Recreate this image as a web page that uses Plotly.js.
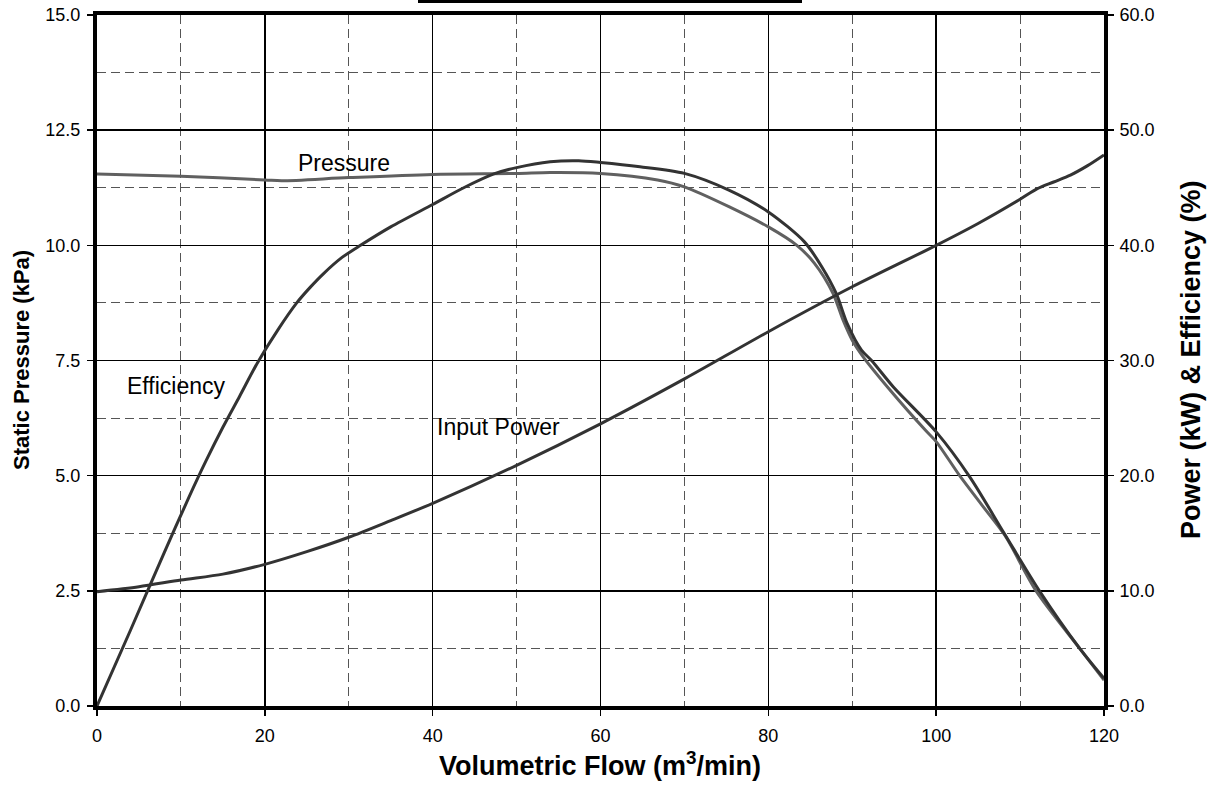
<!DOCTYPE html>
<html>
<head>
<meta charset="utf-8">
<script src="https://cdn.plot.ly/plotly-3.0.1.min.js"></script>
<style>html,body{margin:0;padding:0;background:#fff;}#chart{width:1211px;height:791px;}</style>
</head>
<body>
<div id="chart"></div>
<script>
// Pressure curve (left axis, kPa)
const pressureFlow = [0, 10, 20, 22, 30, 40, 50, 54, 60, 66.8, 70, 75.3, 80, 83.4, 85.5, 87.7, 88.9, 90, 91.3, 94.5, 98.7, 100, 102.8, 105.5, 108.2, 111.9, 117.1, 120];
const pressureVals = [11.55, 11.5, 11.42, 11.40, 11.47, 11.54, 11.56, 11.58, 11.56, 11.42, 11.27, 10.84, 10.40, 10.0, 9.61, 8.96, 8.38, 7.94, 7.58, 6.86, 5.99, 5.74, 5.0, 4.35, 3.7, 2.5, 1.25, 0.56];

// Efficiency curve (right axis, %)
const effFlow = [0, 4, 8, 11, 13, 15, 17, 19.2, 21.5, 23.8, 25.4, 27, 29.2, 31.4, 35, 40, 43.7, 47.3, 50, 54, 57.4, 60, 64.7, 70, 75.3, 80, 84.3, 86.4, 88.1, 89.4, 91.1, 92.3, 94.9, 100, 104, 108.1, 112.3, 117.1, 120];
const effVals = [0, 6.6, 13.3, 18.2, 21.3, 24.2, 26.9, 29.9, 32.6, 35.0, 36.35, 37.55, 38.95, 40.0, 41.6, 43.55, 45.0, 46.2, 46.75, 47.26, 47.35, 47.2, 46.83, 46.25, 44.8, 42.9, 40.3, 38.1, 35.8, 33.2, 30.9, 30.0, 27.7, 23.8, 19.9, 15, 10, 5, 2.4];

// Input power curve (right axis, kW)
const powerFlow = [0, 5, 10, 15, 20, 25, 30, 35, 40, 50, 60, 70, 80, 90, 100, 105, 110, 112, 114, 116, 118, 120];
const powerVals = [9.93, 10.36, 10.94, 11.45, 12.3, 13.4, 14.65, 16.1, 17.6, 20.9, 24.5, 28.4, 32.5, 36.4, 40, 41.9, 44.0, 44.9, 45.5, 46.1, 46.9, 47.85];

const xTicks = [0, 20, 40, 60, 80, 100, 120];
const leftTicks = [0, 2.5, 5, 7.5, 10, 12.5, 15];
const rightTicks = [0, 10, 20, 30, 40, 50, 60];

const FONT = 'Arial, "Liberation Sans", sans-serif';
const dark = '#333333';
const gray = '#606060';

const traces = [
  {x: pressureFlow, y: pressureVals, type: 'scatter', mode: 'lines', name: 'Pressure',
   line: {color: gray, width: 3, shape: 'spline', smoothing: 0.8}, yaxis: 'y', hoverinfo: 'skip'},
  {x: effFlow, y: effVals, type: 'scatter', mode: 'lines', name: 'Efficiency',
   line: {color: dark, width: 3, shape: 'spline', smoothing: 0.8}, yaxis: 'y2', hoverinfo: 'skip'},
  {x: powerFlow, y: powerVals, type: 'scatter', mode: 'lines', name: 'Input Power',
   line: {color: dark, width: 3, shape: 'spline', smoothing: 0.8}, yaxis: 'y2', hoverinfo: 'skip'}
];

const minorGrid = {showgrid: true, gridcolor: '#555', griddash: '9px,5px', gridwidth: 1, ticks: ''};

const layout = {
  width: 1211, height: 791,
  margin: {l: 97, r: 107, t: 15, b: 85},
  paper_bgcolor: '#fff', plot_bgcolor: '#fff',
  showlegend: false,
  font: {family: FONT, size: 18, color: '#000'},
  xaxis: {
    range: [0, 120], tickvals: xTicks, ticktext: xTicks.map(String),
    ticks: 'outside', ticklen: 6, tickwidth: 1.5, tickcolor: '#000', ticklabelstandoff: 4,
    showgrid: true, gridcolor: '#000', gridwidth: 1.5,
    minor: Object.assign({dtick: 10, tick0: 0}, minorGrid),
    showline: true, linecolor: '#000', linewidth: 4, mirror: true,
    zeroline: false, tickfont: {family: FONT, size: 18}
  },
  yaxis: {
    range: [0, 15], tickvals: leftTicks, ticktext: leftTicks.map(v => v.toFixed(1)),
    ticks: 'outside', ticklen: 6, tickwidth: 1.5, tickcolor: '#000', ticklabelstandoff: 3,
    showgrid: true, gridcolor: '#000', gridwidth: 1.5,
    minor: Object.assign({dtick: 1.25, tick0: 0}, minorGrid),
    showline: true, linecolor: '#000', linewidth: 4, mirror: true,
    zeroline: false, tickfont: {family: FONT, size: 18}
  },
  yaxis2: {
    range: [0, 60], tickvals: rightTicks, ticktext: rightTicks.map(v => v.toFixed(1)),
    overlaying: 'y', side: 'right',
    ticks: 'outside', ticklen: 6, tickwidth: 1.5, tickcolor: '#000', ticklabelstandoff: 2,
    showgrid: false, zeroline: false,
    showline: true, linecolor: '#000', linewidth: 4,
    tickfont: {family: FONT, size: 18}
  },
  shapes: [
    {type: 'line', xref: 'paper', yref: 'paper', x0: (418 - 97) / 1007, x1: (802 - 97) / 1007,
     y0: (706 - 1.5) / 691, y1: (706 - 1.5) / 691, line: {color: '#000', width: 3}}
  ],
  annotations: [
    {text: 'Pressure', x: 29.4, y: 11.79, xref: 'x', yref: 'y', showarrow: false,
     font: {family: FONT, size: 23, color: '#000'}},
    {text: 'Efficiency', x: 9.5, y: 6.95, xref: 'x', yref: 'y', showarrow: false,
     font: {family: FONT, size: 23, color: '#000'}},
    {text: 'Input Power', x: 47.8, y: 6.06, xref: 'x', yref: 'y', showarrow: false,
     font: {family: FONT, size: 23, color: '#000'}},
    {text: '<b>Volumetric Flow (m<sup>3</sup>/min)</b>', xref: 'paper', yref: 'paper',
     x: (600 - 97) / 1007, y: (706 - 764) / 691, showarrow: false, yanchor: 'middle',
     font: {family: FONT, size: 27, color: '#000'}},
    {text: '<b>Static Pressure (kPa)</b>', xref: 'paper', yref: 'paper', textangle: -90,
     x: (21 - 97) / 1007, y: (706 - 360) / 691, showarrow: false, xanchor: 'center', yanchor: 'middle',
     font: {family: FONT, size: 22, color: '#000'}},
    {text: '<b>Power (kW) &amp; Efficiency (%)</b>', xref: 'paper', yref: 'paper', textangle: -90,
     x: (1191 - 97) / 1007, y: (706 - 360) / 691, showarrow: false, xanchor: 'center', yanchor: 'middle',
     font: {family: FONT, size: 27, color: '#000'}}
  ]
};

Plotly.newPlot('chart', traces, layout, {staticPlot: true, displayModeBar: false});
</script>
</body>
</html>
